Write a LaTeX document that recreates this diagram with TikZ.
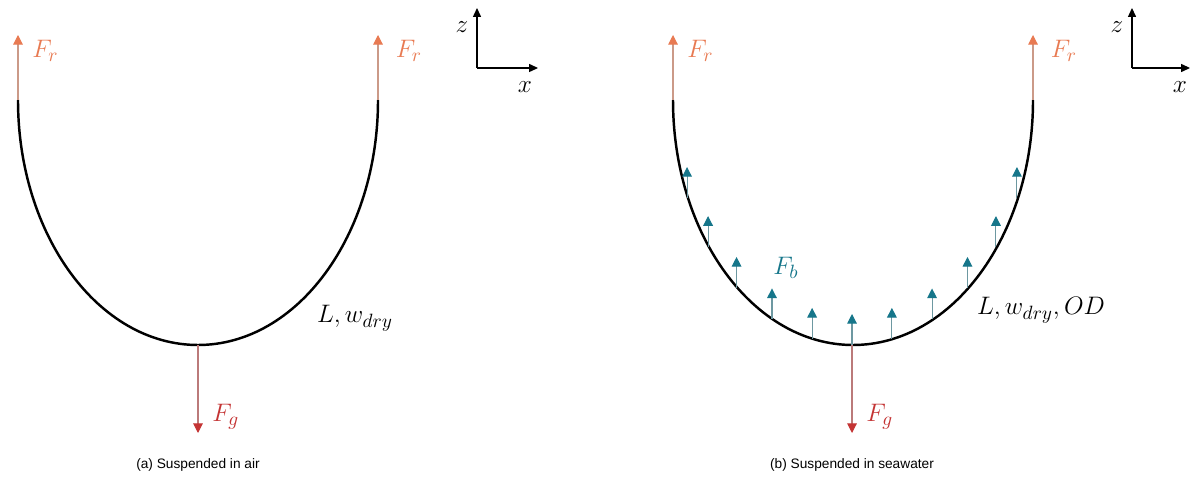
\documentclass[tikz,border=0pt]{standalone}
\usepackage{amsmath}
\usepackage{fontspec}
\setsansfont{Liberation Sans}
\usepackage{tikz}
\usetikzlibrary{positioning,arrows.meta,calc}
\definecolor{react}{RGB}{232,122,82}
\definecolor{grav}{RGB}{196,52,52}
\definecolor{buoy}{RGB}{22,118,138}

\begin{document}
\begin{tikzpicture}[x=0.02cm, y=0.02cm,
  force/.style={line width=0.6pt, draw=#1!50!lightgray!90!gray, -{Triangle[width=5.5pt,length=5.5pt,color=#1]}},
  axis/.style={line width=0.6pt, -{Triangle[width=4.5pt,length=5pt]}},
  mlbl/.style={inner sep=0pt, font=\fontsize{15.5}{18}\selectfont},
  captxt/.style={font=\sffamily\fontsize{7.8}{9}\selectfont}]
  \useasboundingbox (0,0) rectangle (1192,480);

  % (a) suspended in air
  \coordinate (aL) at (18,380);
  \coordinate (aR) at (378,380);
  \coordinate (aB) at (198,135);
  \coordinate (aLt) at (18,445);
  \coordinate (aRt) at (378,445);
  \coordinate (aBt) at (198,47);
  \draw[line width=1.4pt] (aL) arc[start angle=180, end angle=360, x radius=180, y radius=245];
  \draw[force=react] (aL) -- (aLt);
  \draw[force=react] (aR) -- (aRt);
  \draw[force=grav] (aB) -- (aBt);
  \node[mlbl, text=react, below right=3pt and 8pt of aLt] (aFrl) {$F_r$};
  \node[mlbl, text=react, below right=3pt and 10pt of aRt] (aFrr) {$F_r$};
  \node[mlbl, text=grav, above right=2pt and 8pt of aBt] (aFg) {$F_g$};
  \node[mlbl] (aprop) at (355,162) {$L, w_{dry}$};
  \node[captxt] (acap) at (198,15) {(a) Suspended in air};

  % axes (a)
  \coordinate (aO) at (477,412);
  \coordinate (aZ) at (477,472);
  \coordinate (aX) at (538,412);
  \draw[axis] (aO) -- (aZ);
  \draw[axis] (aO) -- (aX);
  \node[mlbl] (azl) at (462,453) {$z$};
  \node[mlbl] (axl) at (525,393) {$x$};

  % (b) suspended in seawater
  \coordinate (bC) at (852,380);
  \coordinate (bL) at (673,380);
  \coordinate (bR) at (1033,380);
  \coordinate (bB) at (852,135);
  \coordinate (bLt) at (673,445);
  \coordinate (bRt) at (1033,445);
  \coordinate (bBt) at (852,47);
  \draw[line width=1.4pt] (bL) arc[start angle=180, end angle=360, x radius=180, y radius=245];
  \foreach \a [count=\n] in {203.6,216.9,230.1,243.6,257.2,270,282.8,296.4,309.9,323.1,336.4}{
    \coordinate (w\n) at ($(bC)+({180*cos(\a)},{245*sin(\a)})$);
    \coordinate (wt\n) at ($(w\n)+(0,31)$);
    \draw[force=buoy] (w\n) -- (wt\n);
  }
  \draw[force=react] (bL) -- (bLt);
  \draw[force=react] (bR) -- (bRt);
  \draw[force=grav] (bB) -- (bBt);
  \node[mlbl, text=react, below right=3pt and 8pt of bLt] (bFrl) {$F_r$};
  \node[mlbl, text=react, below right=3pt and 10pt of bRt] (bFrr) {$F_r$};
  \node[mlbl, text=grav, above right=2pt and 8pt of bBt] (bFg) {$F_g$};
  \node[mlbl, text=buoy] (bFb) at (786,212) {$F_b$};
  \node[mlbl] (bprop) at (1041,170) {$L, w_{dry}, OD$};
  \node[captxt] (bcap) at (852,15) {(b) Suspended in seawater};

  % axes (b)
  \coordinate (bO) at (1132,412);
  \coordinate (bZ) at (1132,472);
  \coordinate (bX) at (1190,412);
  \draw[axis] (bO) -- (bZ);
  \draw[axis] (bO) -- (bX);
  \node[mlbl] (bzl) at (1117,453) {$z$};
  \node[mlbl] (bxl) at (1180,393) {$x$};
\end{tikzpicture}
\end{document}
